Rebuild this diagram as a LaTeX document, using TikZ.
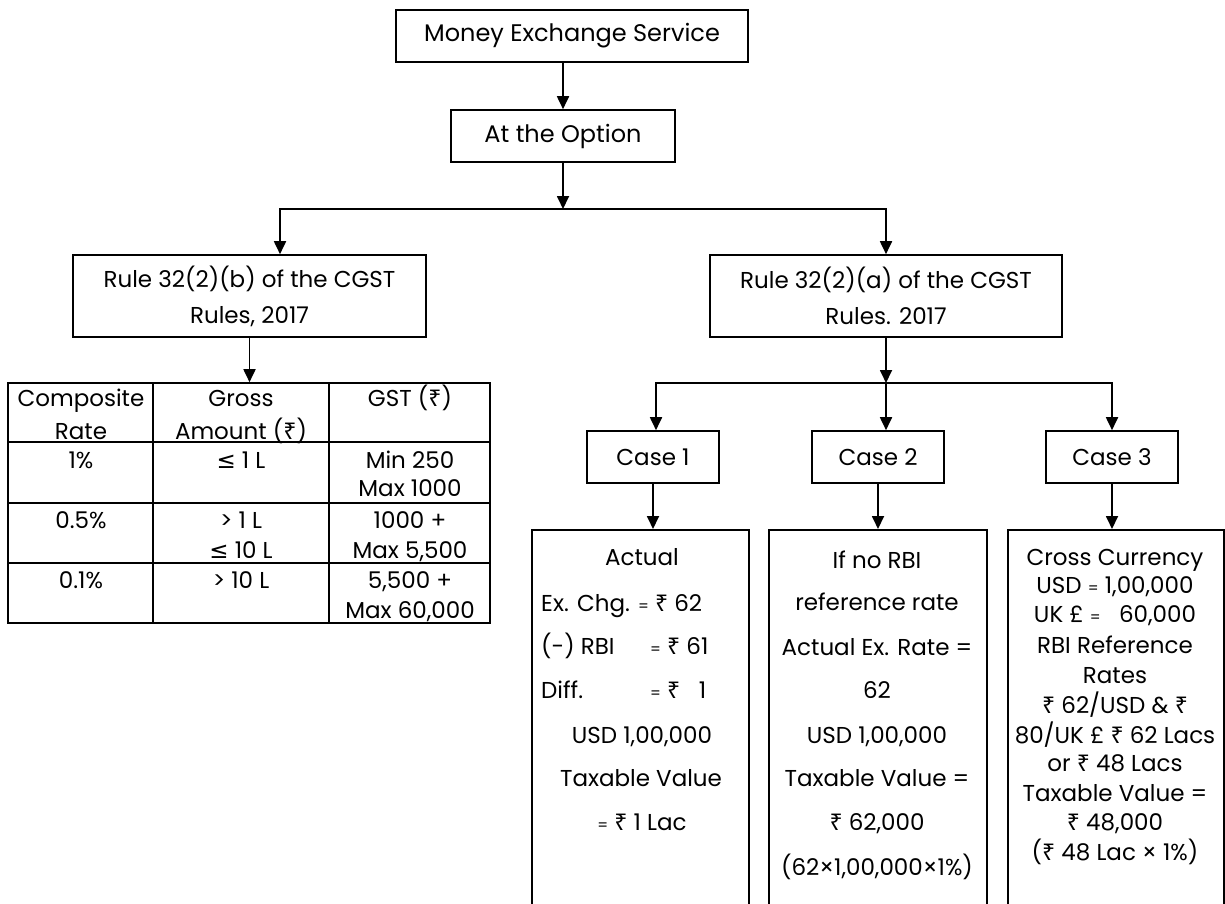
\documentclass[tikz,border=0pt]{standalone}
\usepackage{fontspec}
\setmainfont{Poppins}
\newfontfamily\rsfont{Noto Sans}
\newfontfamily\djfont{DejaVu Sans}
\newcommand\Rs{{\rsfont ₹}}
\newcommand\LE{{\djfont ≤}}
\newcommand\eqs{{\fontsize{15}{15}\selectfont =}}
\newcommand\fs{\fontsize{23}{27}\selectfont}
\newcommand\bfs{\fontsize{24}{28}\selectfont}
\newcommand\rfs{\fontsize{23}{36}\selectfont}
\usetikzlibrary{arrows.meta}
\begin{document}
\begin{tikzpicture}[x=1pt,y=-1pt,
  box/.style={draw, line width=1.6pt, inner sep=0pt, font=\fs},
  arr/.style={-{Triangle[width=12pt,length=13pt]}, line width=1.8pt},
  ln/.style={inner sep=0pt, anchor=base, font=\fs},
  lnw/.style={inner sep=0pt, anchor=base west, font=\fs},
]
\useasboundingbox (0,0) rectangle (1225,904);
\clip (0,0) rectangle (1225,904);

% top boxes
\node[box, minimum width=352, minimum height=52, font=\bfs] (mes) at (572,36) {Money Exchange Service};
\node[box, minimum width=224, minimum height=52, font=\bfs] (opt) at (563,136) {At the Option};
\coordinate (j1) at (563,209);
\coordinate (jL) at (280,209);
\coordinate (jR) at (886,209);

% rule boxes
\node[box, minimum width=353, minimum height=82, align=center, font=\rfs] (r1) at (249.5,296) {Rule 32(2)(b) of the CGST\\Rules, 2017};
\node[box, minimum width=352, minimum height=82, align=center, font=\rfs] (r2) at (886,296) {Rule 32(2)(a) of the CGST\\Rules. 2017};

% table
\node[draw, line width=1.6pt, minimum width=482, minimum height=240, inner sep=0pt] (tbl) at (249,503) {};
\draw[line width=1.6pt] (8,442) -- (490,442);
\draw[line width=1.6pt] (8,503) -- (490,503);
\draw[line width=1.6pt] (8,563) -- (490,563);
\draw[line width=1.6pt] (153,383) -- (153,623);
\draw[line width=1.6pt] (329,383) -- (329,623);
\node[ln] (t11) at (81,406) {Composite};
\node[ln] (t12) at (81,439) {Rate};
\node[ln] (t21) at (241,406) {Gross};
\node[ln] (t22) at (241,439) {Amount (\Rs)};
\node[ln] (t31) at (410,406) {GST (\Rs)};
\node[ln] (u1) at (81,468) {1\%};
\node[ln] (u2) at (241,468) {\LE\ 1 L};
\node[ln] (u3) at (410,468) {Min 250};
\node[ln] (u4) at (410,496) {Max 1000};
\node[ln] (v1) at (81,528) {0.5\%};
\node[ln] (v2) at (241,528) {> 1 L};
\node[ln] (v3) at (241,558) {\LE\ 10 L};
\node[ln] (v4) at (410,528) {1000 +};
\node[ln] (v5) at (410,558) {Max 5,500};
\node[ln] (w1) at (81,588) {0.1\%};
\node[ln] (w2) at (241,588) {> 10 L};
\node[ln] (w3) at (410,588) {5,500 +};
\node[ln] (w4) at (410,618) {Max 60,000};

% case boxes
\coordinate (j2) at (886,383);
\coordinate (kL) at (656,383);
\coordinate (kR) at (1112,383);
\node[box, minimum width=132, minimum height=52] (c1) at (653,457) {Case 1};
\node[box, minimum width=132, minimum height=52] (c2) at (878,457) {Case 2};
\node[box, minimum width=132, minimum height=52] (c3) at (1112,457) {Case 3};

% big boxes
\node[draw, line width=1.6pt, minimum width=217, minimum height=420, anchor=north west, inner sep=0pt] (b1) at (531,529) {};
\node[draw, line width=1.6pt, minimum width=218, minimum height=420, anchor=north west, inner sep=0pt] (b2) at (768,529) {};
\node[draw, line width=1.6pt, minimum width=216, minimum height=420, anchor=north west, inner sep=0pt] (b3) at (1007,529) {};

% box 1 text
\node[ln] (a1) at (642,565) {Actual};
\node[lnw] (a2) at (541,611) {Ex. Chg. \eqs\ \Rs\ 62};
\node[lnw] (a3) at (541,654) {(-) RBI};
\node[lnw] (a3b) at (650,654) {\eqs\ \Rs\ 61};
\node[lnw] (a4) at (541,698) {Diff.};
\node[lnw] (a4b) at (650,698) {\eqs\ \Rs\ \ \ 1};
\node[ln] (a5) at (642,743) {USD 1,00,000};
\node[ln] (a6) at (641,786) {Taxable Value};
\node[ln] (a7) at (642,830) {\eqs\ \Rs\ 1 Lac};

% box 2 text
\node[ln] (d1) at (877,568) {If no RBI};
\node[ln] (d2) at (877,610) {reference rate};
\node[ln] (d3) at (877,655) {Actual Ex. Rate =};
\node[ln] (d4) at (877,698) {62};
\node[ln] (d5) at (877,743) {USD 1,00,000};
\node[ln] (d6) at (877,786) {Taxable Value =};
\node[ln] (d7) at (877,830) {\Rs\ 62,000};
\node[ln] (d8) at (877,875) {(62×1,00,000×1\%)};

% box 3 text
\node[ln] (e1) at (1115,565) {Cross Currency};
\node[ln] (e2) at (1115,593) {USD \eqs\ 1,00,000};
\node[ln] (e3) at (1115,622) {UK £ \eqs\ \ \ 60,000};
\node[ln] (e4) at (1115,653) {RBI Reference};
\node[ln] (e5) at (1115,683) {Rates};
\node[ln] (e6) at (1115,713) {\Rs\ 62/USD \& \Rs};
\node[ln] (e7) at (1115,743) {80/UK £ \Rs\ 62 Lacs};
\node[ln] (e8) at (1115,771) {or \Rs\ 48 Lacs};
\node[ln] (e9) at (1115,801) {Taxable Value =};
\node[ln] (e10) at (1115,830) {\Rs\ 48,000};
\node[ln] (e11) at (1115,860) {(\Rs\ 48 Lac × 1\%)};

% connectors
\draw[arr] (mes.south -| opt.north) -- (opt.north);
\draw[arr] (opt.south) -- (j1);
\draw[arr] (j1) -| (r1.north -| jL);
\draw[arr] (j1) -| (r2.north -| jR);
\draw[arr] (r1.south) -- (r1.south |- tbl.north);
\draw[arr] (r2.south) -- (j2);
\draw[arr] (j2) -| (c1.north -| kL);
\draw[arr] (j2) -- (c2.north -| j2);
\draw[arr] (j2) -| (c3.north -| kR);
\draw[arr] (c1.south) -- (c1.south |- b1.north);
\draw[arr] (c2.south) -- (c2.south |- b2.north);
\draw[arr] (c3.south) -- (c3.south |- b3.north);
\end{tikzpicture}
\end{document}
